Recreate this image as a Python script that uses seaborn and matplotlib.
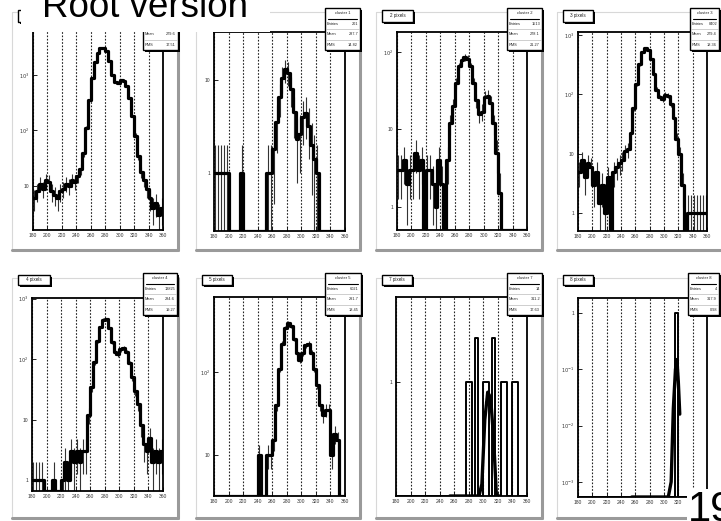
import numpy as np
import pandas as pd
import matplotlib
matplotlib.use("Agg")
import matplotlib.pyplot as plt
from matplotlib.patches import Rectangle
from matplotlib.lines import Line2D
from matplotlib.ticker import LogLocator, MultipleLocator, FuncFormatter, NullFormatter
import seaborn as sns

# ---------------- data ----------------
bin_edges = list(range(180, 361, 4))           # 45 bins of width 4
x_ticks = [180, 200, 220, 240, 260, 280, 300, 320, 340, 360]
x_tick_labels = ["180", "200", "220", "240", "260", "280", "300", "320", "340", "360"]

counts_all = [6, 8, 11, 9, 13, 12, 8, 7, 6, 8,
              9, 11, 10, 13, 12, 15, 20, 40, 110, 350,
              900, 1700, 2500, 3000, 3100, 2700, 1800, 1000, 760, 720,
              800, 780, 620, 380, 180, 80, 35, 18, 13, 9,
              6, 4, 5, 3, 4]
counts_1px = [1, 1, 1, 1, 1, 0, 0, 0, 0, 1,
              0, 0, 0, 0, 0, 0, 0, 0, 1, 1,
              1.8, 3.5, 6.5, 10.5, 13, 12, 8, 4.5, 2.3, 2.6,
              4, 4.4, 3.2, 2, 1.4, 1, 0, 0, 0, 0,
              0, 0, 0, 0, 0]
counts_2px = [3, 3, 4, 2, 3, 3, 5, 3, 4, 0,
              3, 3, 2, 1, 4, 2, 0, 4, 12, 20,
              40, 65, 78, 85, 82, 65, 40, 24, 16, 17,
              26, 27, 22, 12, 5, 1.5, 0, 0, 0, 0,
              0, 0, 0, 0, 0]
counts_3px = [5, 8, 4, 7, 6, 3, 5, 1.5, 3, 1,
              4, 0, 5, 6, 7, 8, 11, 12, 22, 60,
              150, 320, 520, 600, 560, 400, 220, 120, 90, 85,
              98, 95, 70, 40, 18, 10, 3, 0, 1, 1,
              1, 1, 1, 1, 1]
counts_4px = [1, 1, 1, 1, 0, 0, 0, 1, 0, 0,
              1, 2, 1, 3, 2, 3, 2, 3, 3, 12,
              35, 90, 200, 340, 450, 460, 330, 190, 130, 120,
              145, 155, 130, 85, 50, 30, 18, 8, 4, 3,
              5, 2, 3, 2, 3]
counts_5px = [0, 0, 0, 0, 0, 0, 0, 0, 0, 0,
              0, 0, 0, 0, 0, 10, 0, 0, 10, 10,
              15, 40, 110, 220, 340, 390, 360, 250, 170, 140,
              170, 210, 220, 170, 110, 70, 40, 30, 35, 35,
              10, 18, 15, 0, 0]
counts_7px = [0, 0, 0, 0, 0, 0, 0, 0, 0, 0,
              0, 0, 0, 0, 0, 0, 0, 0, 0, 0,
              0, 0, 0, 0, 1, 1, 0, 2, 0, 0,
              1, 1, 0, 2, 0, 0, 1, 1, 0, 0,
              1, 1, 0, 0, 0]
counts_8px = [0, 0, 0, 0, 0, 0, 0, 0, 0, 0,
              0, 0, 0, 0, 0, 0, 0, 0, 0, 0,
              0, 0, 0, 0, 0, 0, 0, 0, 0, 0,
              0, 0, 0, 0, 1, 0, 0, 0, 0, 0,
              0, 0, 0, 0, 0]
fit_7px_x = [254, 270, 286, 294, 298, 302, 306, 310, 314, 318, 322]
fit_7px_y = [1e-4, 1e-4, 1e-3, 0.05, 0.2, 0.55, 0.85, 0.78, 0.42, 0.13, 0.02]
fit_8px_x = [255, 270, 290, 306, 310, 313, 316, 318, 320, 322]
fit_8px_y = [1e-5, 1e-5, 1e-5, 1e-5, 1e-3, 0.02, 0.1, 0.15, 0.06, 0.016]

panel_labels = ["", "", "2 pixels", "3 pixels", "4 pixels", "5 pixels", "7 pixels", "8 pixels"]
stats_titles = ["cluster 0", "cluster 1", "cluster 2", "cluster 3",
                "cluster 4", "cluster 5", "cluster 7", "cluster 8"]
stats_entries = ["61523", "201", "1513", "8402", "13825", "6021", "14", "4"]
stats_mean = ["279.6", "287.7", "278.1", "279.4", "284.6", "291.7", "311.2", "317.9"]
stats_rms = ["17.51", "14.82", "21.27", "18.36", "19.27", "18.45", "17.63", "0.98"]

# ---------------- layout (pixels) ----------------
W, H = 721, 521
sns.set_style("white")
plt.rcParams["font.family"] = ["Liberation Sans", "DejaVu Sans"]

fig = plt.figure(figsize=(W / 100, H / 100), dpi=100)
fig.patch.set_facecolor("white")

def fx(p):
    return p / W

def fy(p):
    return 1 - p / H

def frect(x0, y0, x1, y1, **kw):
    r = Rectangle((fx(x0), fy(y1)), (x1 - x0) / W, (y1 - y0) / H,
                  transform=fig.transFigure, **kw)
    fig.add_artist(r)
    return r

def fline(xs, ys, **kw):
    fig.add_artist(Line2D([fx(x) for x in xs], [fy(y) for y in ys],
                          transform=fig.transFigure, **kw))

# white title overlay region (pixels)
title_box = (21, -2, 270, 32)

def hidden(px, py):
    return title_box[0] <= px <= title_box[2] and title_box[1] <= py <= title_box[3]

pads = [(12, 12, 178, 250), (196, 12, 360, 250), (376, 12, 542, 250), (557, 12, 724, 250),
        (12, 278, 178, 518), (196, 278, 360, 518), (376, 278, 542, 518), (557, 278, 724, 518)]
frames = [(33, 30, 163, 230), (214, 32, 345, 231), (397, 32, 527, 230), (578, 32, 707, 231),
          (32, 298, 163, 491), (214, 297, 345, 496), (396, 297, 527, 496), (578, 298, 707, 497)]
ylogs = [(0.207, 3.81), (-0.624, 1.516), (-0.297, 2.258), (-0.30, 3.05),
         (-0.18, 3.01), (0.506, 2.904), (-0.78, 0.58), (-3.27, 0.27)]
label_boxes = [(18, 10, 50, 22), (200, 10, 232, 22), (382, 10, 413, 22), (563, 10, 593, 22),
               (18, 275, 50, 285), (202, 275, 232, 285), (382, 275, 412, 285), (563, 275, 593, 285)]
stat_boxes = [(143, 8, 178, 50), (325, 8, 360, 50), (507, 8, 542, 50), (690, 8, 719, 50),
              (143, 273, 177, 315), (325, 273, 361, 315), (507, 273, 542, 315), (688, 273, 719, 315)]

all_counts = [counts_all, counts_1px, counts_2px, counts_3px,
              counts_4px, counts_5px, counts_7px, counts_8px]
fits = {6: (fit_7px_x, fit_7px_y), 7: (fit_8px_x, fit_8px_y)}

edges = np.array(bin_edges, dtype=float)
centers = (edges[:-1] + edges[1:]) / 2

def yfmt(v, pos):
    e = int(round(np.log10(v)))
    if e == 0:
        return "1"
    if e == 1:
        return "10"
    return r"$10^{%d}$" % e

for i in range(8):
    # pad borders
    l, t, r, b = pads[i]
    fline([l, r], [t, t], color="#d8d8d8", lw=0.8, zorder=0.5)
    fline([l, l], [t, b], color="#d8d8d8", lw=0.8, zorder=0.5)
    fline([r, r], [t, b], color="#9a9a9a", lw=2.2, zorder=0.5)
    fline([l, r], [b, b], color="#9a9a9a", lw=2.2, zorder=0.5)

    L, T, R, B = frames[i]
    ax = fig.add_axes([fx(L), fy(B), (R - L) / W, (B - T) / H])
    ax.set_zorder(1)
    ax.set_facecolor("white")
    lo, hi = ylogs[i]
    ylo = 10 ** lo
    ax.set_yscale("log")
    ax.set_xlim(180, 360)
    ax.set_ylim(ylo, 10 ** hi)

    cnt = np.array(all_counts[i], dtype=float)
    ystep = np.maximum(np.append(cnt, cnt[-1]), ylo)
    df = pd.DataFrame({"x": edges, "y": ystep})
    thick = 1.4 if i >= 6 else 2.3
    sns.lineplot(data=df, x="x", y="y", ax=ax, color="black", lw=thick,
                 drawstyle="steps-post", estimator=None, sort=False, zorder=3)

    if i < 6:
        m = cnt > 0
        err = np.sqrt(cnt[m])
        ax.vlines(centers[m], np.maximum(cnt[m] - err, ylo), cnt[m] + err,
                  color="#333333", lw=0.8, zorder=2)

    if i in fits:
        fxv, fyv = fits[i]
        dff = pd.DataFrame({"x": fxv, "y": np.maximum(np.array(fyv), ylo)})
        sns.lineplot(data=dff, x="x", y="y", ax=ax, color="black", lw=2.4,
                     estimator=None, sort=False, zorder=4)

    ax.set_xticks(x_ticks)
    ax.set_xticklabels(x_tick_labels)
    ax.xaxis.set_minor_locator(MultipleLocator(4))
    ax.yaxis.set_major_locator(LogLocator(base=10, numticks=20))
    ax.yaxis.set_minor_locator(LogLocator(base=10, subs=np.arange(2, 10), numticks=20))
    ax.yaxis.set_major_formatter(FuncFormatter(yfmt))
    ax.yaxis.set_minor_formatter(NullFormatter())
    ax.tick_params(axis="both", which="major", direction="in", length=3, width=0.6,
                   labelsize=3.6, pad=2.5, colors="black", labelcolor="#333333")
    ax.tick_params(axis="both", which="minor", direction="in", length=1.5, width=0.5)
    ax.tick_params(top=False, right=False, bottom=True, left=True)
    ax.grid(True, axis="x", which="major", color="#222222", ls=(0, (1.5, 1.5)), lw=0.8, zorder=1)
    ax.grid(False, axis="y")
    ax.set_xlabel("")
    ax.set_ylabel("")
    for s in ax.spines.values():
        s.set_color("black")
        s.set_linewidth(1.3)
        s.set_visible(True)

    # label box with shadow
    a, b_, c, d = label_boxes[i]
    frect(a + 1.5, b_ + 1.5, c + 1.5, d + 1.5, facecolor="black", edgecolor="none", zorder=3)
    frect(a, b_, c, d, facecolor="white", edgecolor="black", lw=1.0, zorder=3.1)
    if panel_labels[i] and not hidden((a + c) / 2, (b_ + d) / 2):
        fig.text(fx((a + c) / 2), fy((b_ + d) / 2), panel_labels[i], fontsize=3.3,
                 ha="center", va="center", zorder=3.2, color="#222222")

    # stats box with shadow
    a, b_, c, d = stat_boxes[i]
    frect(a + 2, b_ + 2, c + 2, d + 2, facecolor="black", edgecolor="none", zorder=3)
    frect(a, b_, c, d, facecolor="white", edgecolor="black", lw=1.0, zorder=3.1)
    rh = (d - b_) / 4
    fline([a + 3, c - 3], [b_ + rh, b_ + rh], color="black", lw=0.8, zorder=3.2)
    if not hidden((a + c) / 2, b_ + rh / 2):
        fig.text(fx((a + c) / 2), fy(b_ + rh / 2), stats_titles[i], fontsize=3,
                 ha="center", va="center", zorder=3.3, color="#222222")
    rows = [("Entries", stats_entries[i]), ("Mean", stats_mean[i]), ("RMS", stats_rms[i])]
    for k, (nm, val) in enumerate(rows):
        yc = b_ + rh * (k + 1.5)
        if k > 0:
            fline([a + 1, c - 1], [b_ + rh * (k + 1), b_ + rh * (k + 1)],
                  color="#bbbbbb", lw=0.5, zorder=3.2)
        if hidden(a + 2, yc):
            continue
        fig.text(fx(a + 2), fy(yc), nm, fontsize=2.8, ha="left", va="center",
                 zorder=3.3, color="#222222")
        fig.text(fx(c - 2), fy(yc), val, fontsize=2.8, ha="right", va="center",
                 zorder=3.3, color="#222222")

# title overlay box and text
frect(title_box[0], title_box[1], title_box[2], title_box[3],
      facecolor="white", edgecolor="none", zorder=8)
fig.text(fx(42), fy(17), "Root version", fontsize=26.5, ha="left", va="baseline",
         color="black", zorder=9)

# page number
fig.text(fx(688), fy(521), "19", fontsize=30, ha="left", va="baseline", color="black",
         zorder=9, bbox=dict(facecolor="white", edgecolor="none", pad=0.5))

fig.savefig("out.png", dpi=100, facecolor="white")
